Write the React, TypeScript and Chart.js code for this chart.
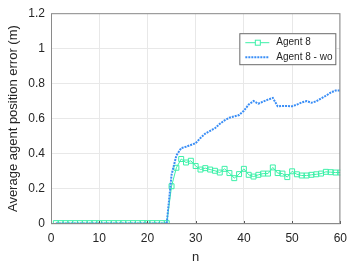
import React, { useEffect, useRef } from "react";
import { Chart, registerables } from "chart.js";

Chart.register(...registerables);

const nValues = [
  1, 2, 3, 4, 5, 6, 7, 8, 9, 10, 11, 12, 13, 14, 15, 16, 17, 18, 19, 20,
  21, 22, 23, 24, 25, 26, 27, 28, 29, 30, 31, 32, 33, 34, 35, 36, 37, 38, 39, 40,
  41, 42, 43, 44, 45, 46, 47, 48, 49, 50, 51, 52, 53, 54, 55, 56, 57, 58, 59, 60,
];

const agent8 = [
  0.005, 0.005, 0.005, 0.005, 0.005, 0.005, 0.005, 0.005, 0.005, 0.005,
  0.005, 0.005, 0.005, 0.005, 0.005, 0.005, 0.005, 0.005, 0.005, 0.005,
  0.005, 0.005, 0.005, 0.005, 0.215, 0.32, 0.37, 0.35, 0.36, 0.33,
  0.31, 0.318, 0.31, 0.303, 0.293, 0.314, 0.29, 0.261, 0.284, 0.314,
  0.28, 0.27, 0.28, 0.287, 0.287, 0.322, 0.29, 0.287, 0.267, 0.3,
  0.283, 0.276, 0.276, 0.28, 0.283, 0.287, 0.297, 0.295, 0.293, 0.293,
];

const agent8wo = [
  0.003, 0.003, 0.003, 0.003, 0.003, 0.003, 0.003, 0.003, 0.003, 0.003,
  0.003, 0.003, 0.003, 0.003, 0.003, 0.003, 0.003, 0.003, 0.003, 0.003,
  0.003, 0.003, 0.003, 0.003, 0.28, 0.39, 0.432, 0.44, 0.45, 0.46,
  0.49, 0.515, 0.53, 0.545, 0.57, 0.59, 0.605, 0.613, 0.62, 0.645,
  0.68, 0.7, 0.685, 0.697, 0.708, 0.718, 0.67, 0.672, 0.672, 0.67,
  0.68, 0.692, 0.7, 0.69, 0.698, 0.715, 0.73, 0.748, 0.76, 0.76,
];

const xTicks = [0, 10, 20, 30, 40, 50, 60];
const yTicks = [0, 0.2, 0.4, 0.6, 0.8, 1, 1.2];
const yTickLabels = ["0", "0.2", "0.4", "0.6", "0.8", "1", "1.2"];

const seriesNames = ["Agent 8", "Agent 8 - wo"];

const GREEN = "#3cf0a8";
const BLUE = "#3a8ef6";
const TEXT = "#262626";
const FONT = "'Liberation Sans', Arial, Helvetica, sans-serif";

const frameAndLegend = {
  id: "frameAndLegend",
  afterDatasetsDraw(chart: any) {
    const { ctx, chartArea, scales } = chart;
    const { left, right, top, bottom } = chartArea;
    ctx.save();
    // inward tick marks on bottom axis
    ctx.strokeStyle = "#555";
    ctx.lineWidth = 1;
    ctx.beginPath();
    xTicks.forEach((t) => {
      const x = Math.round(scales.x.getPixelForValue(t)) + 0.5;
      ctx.moveTo(x, bottom);
      ctx.lineTo(x, bottom - 3);
    });
    ctx.stroke();
    // box
    ctx.strokeStyle = "#8a8a8a";
    ctx.strokeRect(left + 0.5, top + 0.5, right - left - 1, bottom - top - 1);

    // legend
    const bx = right - 101;
    const by = top + 20;
    const bw = 97;
    const bh = 32;
    ctx.fillStyle = "#ffffff";
    ctx.fillRect(bx, by, bw, bh);
    ctx.strokeStyle = "#6a6a6a";
    ctx.strokeRect(bx + 0.5, by + 0.5, bw - 1, bh - 1);

    const y1 = by + 9.5;
    const y2 = by + 24;
    ctx.strokeStyle = GREEN;
    ctx.lineWidth = 1;
    ctx.beginPath();
    ctx.moveTo(bx + 6, y1);
    ctx.lineTo(bx + 30, y1);
    ctx.stroke();
    ctx.fillStyle = "#fff";
    ctx.fillRect(bx + 16, y1 - 2.5, 5, 5);
    ctx.strokeRect(bx + 16, y1 - 2.5, 5, 5);

    ctx.strokeStyle = BLUE;
    ctx.lineWidth = 2;
    ctx.setLineDash([2, 1]);
    ctx.beginPath();
    ctx.moveTo(bx + 6, y2);
    ctx.lineTo(bx + 30, y2);
    ctx.stroke();
    ctx.setLineDash([]);

    ctx.fillStyle = TEXT;
    ctx.font = `10px ${FONT}`;
    ctx.textAlign = "left";
    ctx.textBaseline = "middle";
    ctx.fillText(seriesNames[0], bx + 37, y1);
    ctx.fillText(seriesNames[1], bx + 37, y2);
    ctx.restore();
  },
};

export default function App() {
  const ref = useRef<HTMLCanvasElement | null>(null);

  useEffect(() => {
    if (!ref.current) return;
    const chart = new Chart(ref.current, {
      type: "line",
      data: {
        datasets: [
          {
            label: seriesNames[0],
            data: nValues.map((n, i) => ({ x: n, y: agent8[i] })),
            borderColor: GREEN,
            backgroundColor: "#ffffff",
            borderWidth: 1,
            pointStyle: "rect",
            pointRadius: 3.5,
            pointBorderWidth: 1,
            pointBorderColor: GREEN,
            pointBackgroundColor: "rgba(255,255,255,0)",
            tension: 0,
            order: 1,
          },
          {
            label: seriesNames[1],
            data: nValues.map((n, i) => ({ x: n, y: agent8wo[i] })),
            borderColor: BLUE,
            borderWidth: 2,
            borderDash: [2, 1],
            pointRadius: 0,
            tension: 0,
            order: 0,
          },
        ],
      },
      options: {
        animation: false,
        responsive: false,
        layout: { padding: { top: 13, right: 13, left: 0, bottom: 0 } },
        plugins: {
          legend: { display: false },
          tooltip: { enabled: false },
        },
        scales: {
          x: {
            type: "linear",
            min: 0,
            max: 60,
            afterBuildTicks: (s: any) => {
              s.ticks = xTicks.map((v) => ({ value: v }));
            },
            afterFit: (s: any) => {
              s.height = 46;
            },
            ticks: {
              color: TEXT,
              font: { family: FONT, size: 12 },
              padding: 7,
              maxRotation: 0,
              callback: (v: any) => String(v),
            },
            grid: { color: "#e8e8e8", drawTicks: false },
            border: { display: false },
            title: {
              display: true,
              text: "n",
              color: TEXT,
              font: { family: FONT, size: 13 },
              padding: { top: 0, bottom: 5 },
            },
          },
          y: {
            type: "linear",
            min: 0,
            max: 1.2,
            afterBuildTicks: (s: any) => {
              s.ticks = yTicks.map((v) => ({ value: v }));
            },
            afterFit: (s: any) => {
              s.width = 51;
            },
            ticks: {
              color: TEXT,
              font: { family: FONT, size: 12 },
              padding: 6,
              callback: (v: any) => {
                const i = yTicks.findIndex((t) => Math.abs(t - v) < 1e-9);
                return i >= 0 ? yTickLabels[i] : "";
              },
            },
            grid: { color: "#e8e8e8", drawTicks: false },
            border: { display: false },
            title: {
              display: true,
              text: "Average agent position error (m)",
              color: TEXT,
              font: { family: FONT, size: 13 },
              padding: { top: 6, bottom: 0 },
            },
          },
        },
      },
      plugins: [frameAndLegend],
    });
    return () => chart.destroy();
  }, []);

  return (
    <div style={{ position: "absolute", left: 0, top: 0, width: 354, height: 270, background: "#fff" }}>
      <canvas ref={ref} width={354} height={270} />
    </div>
  );
}
